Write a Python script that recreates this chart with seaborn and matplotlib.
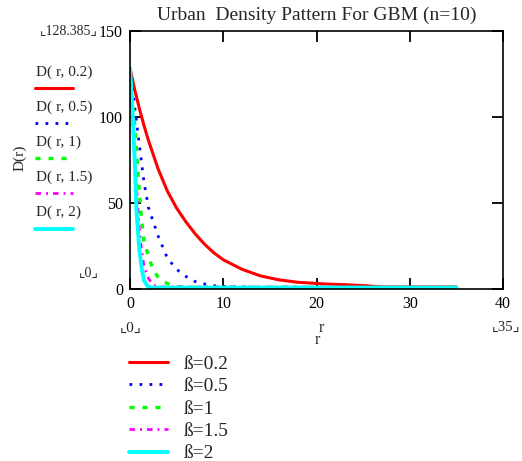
import matplotlib
matplotlib.use('Agg')
import matplotlib.pyplot as plt
import seaborn as sns
from matplotlib.lines import Line2D

# values
r_02 = [0, 0.5, 1, 1.5, 2, 3, 4, 5, 6, 7, 8, 9, 10, 12, 14, 16, 18, 21, 23, 25, 27, 35]
D_02 = [128.4, 116, 105, 95, 86, 70, 57, 47, 39, 32, 26, 21, 17, 11.5, 7.6, 5.3, 3.9, 2.9, 2.5, 2.0, 1.2, 1.2]
r_05 = [0, 0.5, 1, 1.5, 2, 3, 4, 5, 6, 7, 8, 9, 11, 14, 35]
D_05 = [128.4, 106, 84, 62, 47, 31, 18, 11.4, 7.3, 4.3, 2.9, 1.9, 1.2, 1.0, 1.0]
r_1 = [0, 0.25, 0.5, 0.75, 1, 1.25, 1.5, 2, 2.5, 3, 3.5, 4.5, 6, 35]
D_1 = [128.4, 108, 96, 77, 56, 40, 28, 18.5, 11, 7, 4.8, 1.6, 1.0, 1.0]
r_15 = [0, 0.25, 0.5, 0.75, 1, 1.25, 1.5, 2, 2.5, 3, 35]
D_15 = [128.4, 100, 75, 55, 35, 22, 13, 6, 2.2, 1.2, 1.0]
r_2 = [0, 0.15, 0.3, 0.5, 0.7, 1, 1.25, 1.5, 1.9, 2.3, 35]
D_2 = [128.4, 115, 100, 75, 45, 23, 12, 5, 1.5, 0.8, 0.8]

betas = ['0.2', '0.5', '1', '1.5', '2']
colors = ['#ff0000', '#0000ff', '#00ff00', '#ff00ff', '#00ffff']
styles = ['-', (0, (1, 2.6)), (0, (1.5, 2.4)), (0, (2, 1.8, 0.7, 1.8)), '-']
widths = [2.2, 2.0, 2.4, 2.0, 2.8]
series = [(r_02, D_02), (r_05, D_05), (r_1, D_1), (r_15, D_15), (r_2, D_2)]

sns.set_style('ticks')
plt.rcParams['font.family'] = ['Liberation Serif', 'DejaVu Sans']

W, H = 522, 461
fig = plt.figure(figsize=(W / 100, H / 100), dpi=100)


def px(x, y):
    return x / W, 1 - y / H


ax = fig.add_axes([130 / W, 1 - 289 / H, (503 - 130) / W, (289 - 31) / H])

handles = []
for (r, d), c, ls, lw in zip(series, colors, styles, widths):
    sns.lineplot(x=r, y=d, ax=ax, color=c, linestyle=ls, linewidth=lw)
    handles.append(Line2D([], [], color=c, linestyle=ls, linewidth=lw))

ax.set_xlim(0, 40)
ax.set_ylim(0, 150)
ax.set_xticks([0, 10, 20, 30, 40])
ax.set_yticks([0, 50, 100, 150])
ax.tick_params(direction='in', length=8, width=1.3, top=True, right=True,
               labelsize=11.5, colors='black', pad=5)
for s in ax.spines.values():
    s.set_linewidth(1.2)
    s.set_color('black')
ax.set_xlabel('')
ax.set_ylabel('')

fig.text(*px(317, 15), 'Urban  Density Pattern For GBM (n=10)', ha='center', va='center', fontsize=14)
fig.text(*px(20, 158), 'D(r)', rotation=90, ha='center', va='center', fontsize=11)
fig.text(*px(69, 31), '\u231e128.385\u231f', ha='center', va='center', fontsize=10)
fig.text(*px(89, 273), '\u231e0\u231f', ha='center', va='center', fontsize=10)
fig.text(*px(131, 328), '\u231e0\u231f', ha='center', va='center', fontsize=11)
fig.text(*px(506, 327), '\u231e35\u231f', ha='center', va='center', fontsize=10.5)
fig.text(*px(321, 328), 'r', ha='center', va='center', fontsize=11.5)
fig.text(*px(317, 340), 'r', ha='center', va='center', fontsize=11.5)

# Mathcad trace labels on the left
for i, (b, c, ls, lw) in enumerate(zip(betas, colors, styles, widths)):
    y0 = 72 + i * 35
    fig.text(*px(36, y0), 'D( r, %s)' % b, ha='left', va='center', fontsize=11)
    xs, ys = zip(px(35, y0 + 16.5), px(73, y0 + 16.5))
    fig.add_artist(Line2D(xs, ys, color=c, linestyle=ls, linewidth=lw,
                          transform=fig.transFigure))

fig.legend(handles, ['\u00df=%s' % b for b in betas], loc='upper left',
           bbox_to_anchor=px(129, 355), frameon=False, fontsize=14,
           handlelength=2.0, handletextpad=0.8, labelspacing=0.25, borderaxespad=0,
           borderpad=0)

fig.savefig('out.png', dpi=100)
